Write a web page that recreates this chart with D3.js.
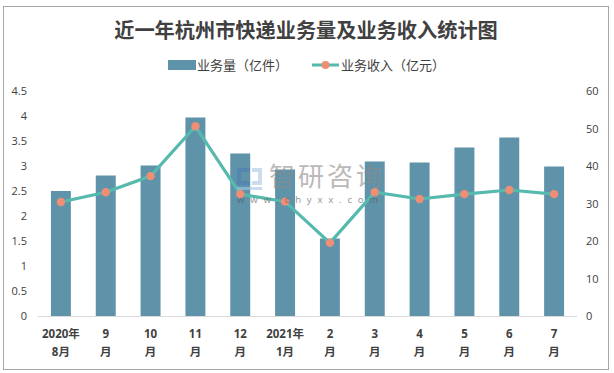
<!DOCTYPE html>
<html>
<head>
<meta charset="utf-8">
<script src="https://cdnjs.cloudflare.com/ajax/libs/d3/7.8.5/d3.min.js"></script>
<style>
  html, body { margin: 0; padding: 0; background: #fff; }
  svg { display: block; font-family: "Noto Sans", "Noto Sans CJK SC", sans-serif; }
</style>
</head>
<body>
<svg id="chart"></svg>
<script>
// Values
const months = ['2020年|8月', '9|月', '10|月', '11|月', '12|月', '2021年|1月', '2|月', '3|月', '4|月', '5|月', '6|月', '7|月'];
const volume = [2.5, 2.81, 3.01, 3.97, 3.25, 2.93, 1.55, 3.09, 3.07, 3.37, 3.57, 2.99];
const revenue = [30.4, 33, 37.3, 50.6, 32.5, 30.5, 19.5, 33, 31.2, 32.5, 33.6, 32.5];
const leftTicks = [0, 0.5, 1, 1.5, 2, 2.5, 3, 3.5, 4, 4.5];
const rightTicks = [0, 10, 20, 30, 40, 50, 60];

const width = 614;
const height = 373;
const barColor = '#5f93aa';
const lineColor = '#55b9ae';
const dotColor = '#ee8f75';
const textColor = '#404040';

const svg = d3.select('#chart').attr('width', width).attr('height', height);

// Outer frame
svg.append('rect')
    .attr('x', 3.5).attr('y', 6.5)
    .attr('width', 605).attr('height', 363)
    .attr('fill', '#fff')
    .attr('stroke', '#a6a6a6')
    .attr('stroke-width', 1);

const x = d3.scaleBand().domain(months).range([38.5, 576.5]).paddingInner(0.555).paddingOuter(0.277);
const yLeft = d3.scaleLinear().domain([0, 4.5]).range([316, 91]);
const yRight = d3.scaleLinear().domain([0, 60]).range([316, 91]);
const cx = m => x(m) + x.bandwidth() / 2;

// Title
svg.append('text')
    .attr('x', 306).attr('y', 38)
    .attr('text-anchor', 'middle')
    .attr('font-family', '"Noto Sans CJK SC"')
    .attr('font-size', 20.2)
    .attr('font-weight', 700)
    .attr('fill', textColor)
    .text('近一年杭州市快递业务量及业务收入统计图');

// Legend
const legend = svg.append('g').attr('font-size', 13).attr('fill', textColor).attr('font-family', '"Noto Sans CJK SC"');
legend.append('rect').attr('x', 168).attr('y', 60).attr('width', 28).attr('height', 10).attr('fill', barColor);
legend.append('text').attr('x', 197).attr('y', 70).text('业务量（亿件）');
legend.append('line').attr('x1', 312).attr('x2', 339).attr('y1', 65).attr('y2', 65)
    .attr('stroke', lineColor).attr('stroke-width', 3);
legend.append('circle').attr('cx', 325.5).attr('cy', 65).attr('r', 4).attr('fill', dotColor);
legend.append('text').attr('x', 341).attr('y', 70).text('业务收入（亿元）');

// Bars
svg.append('g').selectAll('rect')
    .data(volume)
    .join('rect')
    .attr('x', (d, i) => x(months[i]))
    .attr('y', d => yLeft(d))
    .attr('width', x.bandwidth())
    .attr('height', d => yLeft(0) - yLeft(d))
    .attr('fill', barColor);

// Baseline
svg.append('line')
    .attr('x1', 38).attr('x2', 577)
    .attr('y1', 316.5).attr('y2', 316.5)
    .attr('stroke', '#d9d9d9');

// Left and right axes
const axisLeft = svg.append('g')
    .attr('transform', 'translate(27,0)')
    .call(d3.axisLeft(yLeft).tickValues(leftTicks).tickSize(0).tickPadding(0).tickFormat(d => d));
const axisRight = svg.append('g')
    .attr('transform', 'translate(586,0)')
    .call(d3.axisRight(yRight).tickValues(rightTicks).tickSize(0).tickPadding(0));
[axisLeft, axisRight].forEach(a => {
    a.select('.domain').remove();
    a.selectAll('text')
        .attr('font-size', 11)
        .attr('font-family', '"Open Sans", "Noto Sans"')
        .attr('fill', textColor);
});

// Category labels on two lines
const labels = svg.append('g').selectAll('text')
    .data(months)
    .join('text')
    .attr('text-anchor', 'middle')
    .attr('font-size', 11.5)
    .attr('font-weight', 700)
    .attr('font-family', '"Noto Sans", "Noto Sans CJK SC"')
    .attr('fill', textColor);
labels.append('tspan').attr('x', d => cx(d)).attr('y', 338).text(d => d.split('|')[0]);
labels.append('tspan').attr('x', d => cx(d)).attr('y', 356).text(d => d.split('|')[1]);

// Revenue line
const line = d3.line()
    .x((d, i) => cx(months[i]))
    .y(d => yRight(d));
svg.append('path')
    .datum(revenue)
    .attr('d', line)
    .attr('fill', 'none')
    .attr('stroke', lineColor)
    .attr('stroke-width', 3.2);
svg.append('g').selectAll('circle')
    .data(revenue)
    .join('circle')
    .attr('cx', (d, i) => cx(months[i]))
    .attr('cy', d => yRight(d))
    .attr('r', 4.2)
    .attr('fill', dotColor);

// Watermark goes over everything, semi transparent
const mark = svg.append('g').attr('opacity', 0.6);
mark.append('path').attr('d', 'M237 168h13v4h-9v9h9v4h-13z').attr('fill', '#4f7fb5');
mark.append('path').attr('d', 'M252 168h10v17h-10v-4h6v-9h-6z').attr('fill', '#a9c6e3');
mark.append('path').attr('d', 'M237 187h25v3h-25z').attr('fill', '#a9c6e3');
mark.append('text').attr('x', 269).attr('y', 186)
    .attr('font-family', '"Noto Sans CJK SC"')
    .attr('font-size', 26).attr('letter-spacing', 3).attr('fill', '#8c8c8c')
    .text('智研咨询');
mark.append('text').attr('x', 237).attr('y', 203)
    .attr('font-size', 9.5).attr('letter-spacing', 5.8).attr('fill', '#555')
    .text('www.chyxx.com');
</script>
</body>
</html>
